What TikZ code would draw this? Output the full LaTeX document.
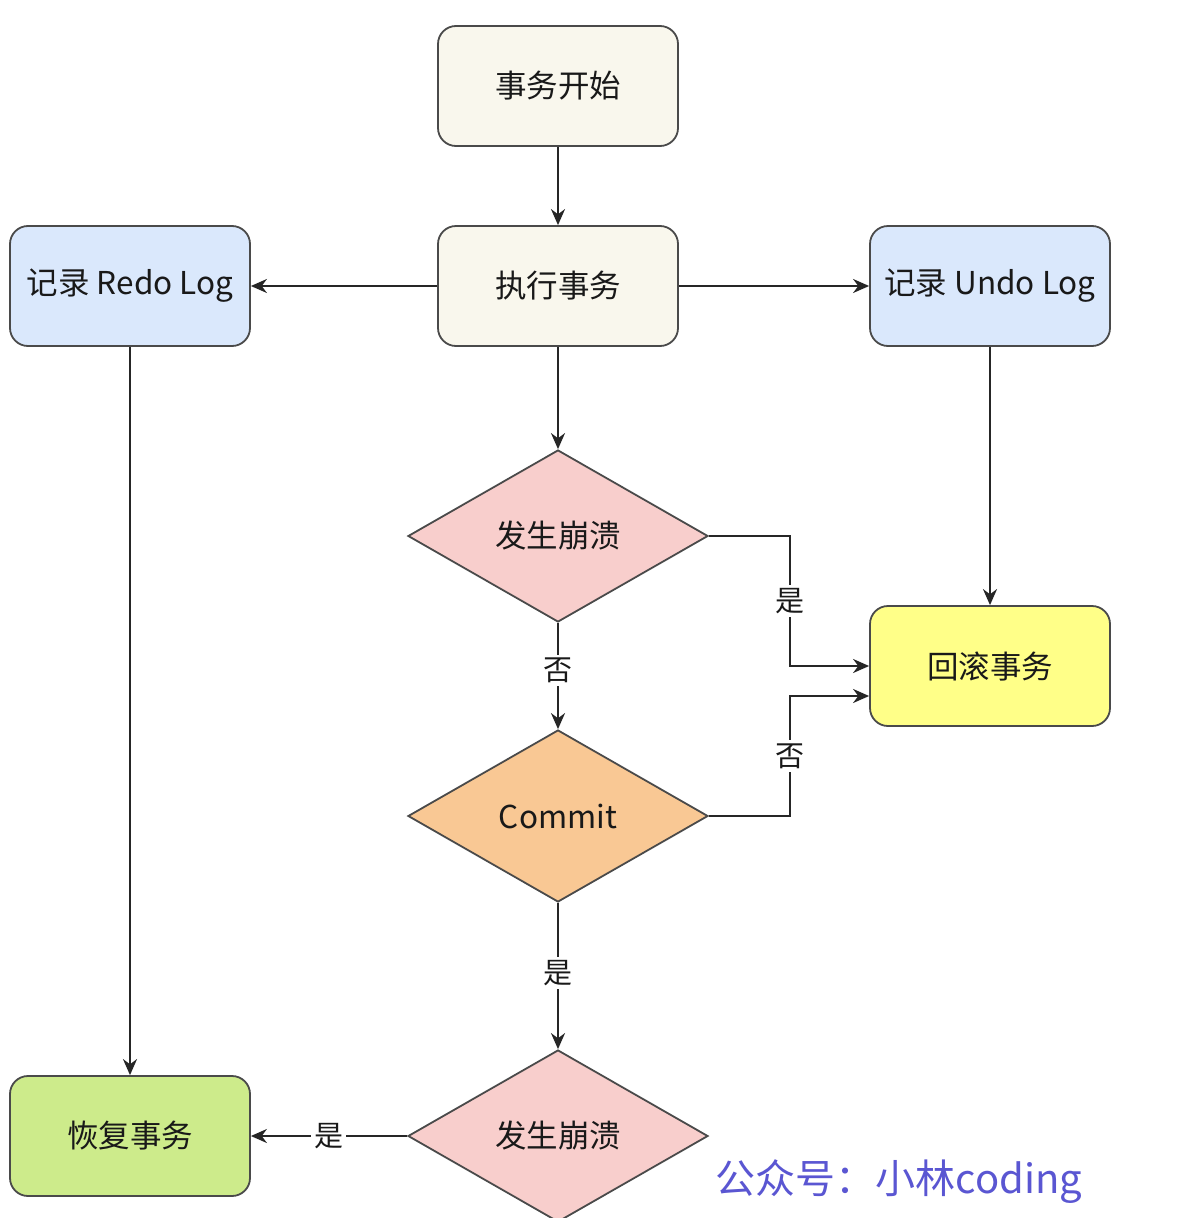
\documentclass[tikz,border=0pt]{standalone}
\usepackage{fontspec}
\setmainfont{Noto Sans CJK SC}
\newfontfamily\wmfont{Noto Sans CJK SC}
\usetikzlibrary{shapes.geometric,arrows.meta,calc}
\definecolor{beige}{HTML}{F9F7ED}
\definecolor{lblue}{HTML}{DAE8FC}
\definecolor{lpink}{HTML}{F8CECC}
\definecolor{lyellow}{HTML}{FFFF88}
\definecolor{lgreen}{HTML}{CDEB8B}
\definecolor{lorange}{HTML}{F9C894}
\definecolor{bord}{HTML}{4A4A4A}
\definecolor{wm}{HTML}{5A56D2}
\tikzset{
  box/.style={draw=bord, line width=1.8pt, rounded corners=18pt, minimum width=240pt, minimum height=120pt, inner sep=0pt, font=\fontsize{31.5pt}{35pt}\selectfont, text=black!90},
  dia/.style={diamond, draw=bord, line width=1.8pt, minimum width=300pt, minimum height=172pt, inner sep=0pt, font=\fontsize{31.5pt}{35pt}\selectfont, text=black!90},
  arr/.style={draw=black!85, line width=2pt, -{Stealth[length=16pt,width=14pt]}},
  lbl/.style={fill=white, inner sep=3pt, font=\fontsize{29pt}{32pt}\selectfont, text=black!90}
}
\begin{document}
\begin{tikzpicture}[x=1pt,y=-1pt]
\useasboundingbox (0,0) rectangle (1178,1218);
\clip (0,0) rectangle (1178,1218);
\fill[white] (0,0) rectangle (1178,1218);
\node[box, fill=beige] (start) at (558,86) {事务开始};
\node[box, fill=beige] (exec) at (558,286) {执行事务};
\node[box, fill=lblue] (redo) at (130,286) {记录 Redo Log};
\node[box, fill=lblue] (undo) at (990,286) {记录 Undo Log};
\node[dia, fill=lpink] (crash1) at (558,536) {发生崩溃};
\node[box, fill=lyellow] (rollback) at (990,666) {回滚事务};
\node[dia, fill=lorange] (commit) at (558,816) {Commit};
\node[dia, fill=lpink] (crash2) at (558,1136) {发生崩溃};
\node[box, fill=lgreen] (recover) at (130,1136) {恢复事务};
\coordinate (rbin) at ($(rollback.west)+(0,30)$);
\draw[arr] (start) -- (exec);
\draw[arr] (exec) -- (redo);
\draw[arr] (exec) -- (undo);
\draw[arr] (exec) -- (crash1);
\draw[arr] (redo) -- (recover);
\draw[arr] (undo) -- (rollback);
\draw[arr] (crash1.east) -- ++(81,0) |- node[pos=0.25, lbl] {是} (rollback.west);
\draw[arr] (crash1) -- node[lbl, pos=0.45] {否} (commit);
\draw[arr] (commit.east) -- ++(81,0) |- node[pos=0.25, lbl] {否} (rbin);
\draw[arr] (commit) -- node[lbl, pos=0.48] {是} (crash2);
\draw[arr] (crash2) -- node[lbl, pos=0.5] {是} (recover);
\node[font=\wmfont\fontsize{40pt}{44pt}\selectfont, text=wm] (wmark) at (899,1182) {公众号：小林coding};
\end{tikzpicture}
\end{document}
